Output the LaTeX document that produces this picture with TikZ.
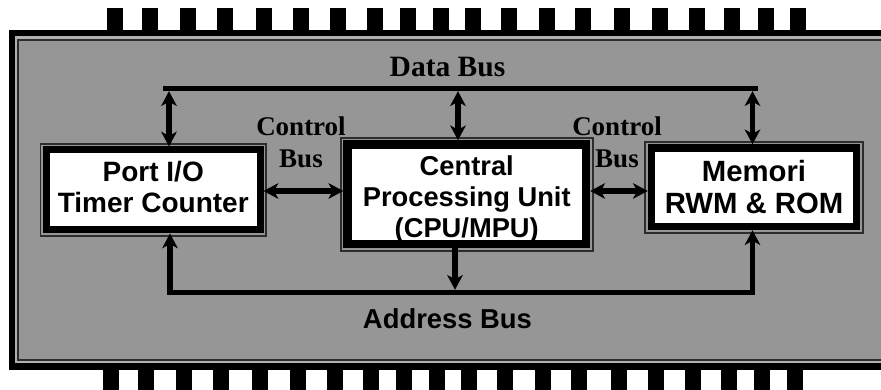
\documentclass[tikz,border=0pt]{standalone}
\usepackage{fontspec}
\setmainfont{Liberation Serif}
\setsansfont{Liberation Sans}
\usetikzlibrary{arrows.meta}

\definecolor{chipgray}{RGB}{150,150,150}
\definecolor{rimgray}{RGB}{176,176,176}
\definecolor{edgeline}{RGB}{45,45,45}

\begin{document}
\begin{tikzpicture}[x=1pt, y=-1pt,
  unitbox/.style={draw=black, fill=white, inner sep=0pt, align=center,
    font=\sffamily\bfseries\fontsize{28}{31}\selectfont},
  rim/.style={draw=edgeline, line width=1.6pt},
  bus/.style={line width=5.5pt, line join=miter},
  bustip/.tip={Stealth[length=15pt, width=16pt, inset=4.5pt, line width=0pt]},
  serifbus/.style={inner sep=0pt, align=center,
    font=\rmfamily\bfseries\fontsize{27}{32}\selectfont},
  pin/.style={fill=black}
]
\useasboundingbox (0,0) rectangle (881,390);
\clip (0,0) rectangle (881,390);

% package pins
\foreach \px in {107,142,180,217,256,293,330,367,400,433,465,501,539,575,614,652,689,724,758,790}
  \fill[pin] (\px,8) rectangle ++(16,24);
\foreach \px in {103,138,176,213,252,290,327,363,396,429,461,497,535,571,611,648,685,721,754,787}
  \fill[pin] (\px,368) rectangle ++(16,25);

% package body with its double rim
\fill[black] (9,30.5) rectangle (900,370);
\fill[rimgray] (15,36.5) rectangle (900,363.3);
\filldraw[fill=chipgray, draw=edgeline, line width=2pt] (17.8,39.6) rectangle (910,359.8);

% functional units (struts balance the text block inside each frame)
\node[unitbox, line width=7pt, minimum width=213.5pt, minimum height=80pt]
  (port) at (153.25,190) {Port I/O\\Timer Counter\rule[-7pt]{0pt}{0pt}};
\node[unitbox, line width=8.5pt, minimum width=238.5pt, minimum height=99.5pt,
  font=\sffamily\bfseries\fontsize{27.3}{31}\selectfont]
  (cpu) at (466.75,194.25) {\rule{0pt}{30pt}Central\\Processing Unit\\(CPU/MPU)};
\node[unitbox, line width=7.5pt, minimum width=205pt, minimum height=78.5pt,
  font=\sffamily\bfseries\fontsize{29.3}{32.5}\selectfont]
  (mem) at (754,187.25) {Memori\\RWM \& ROM};

% thin outer rims of the units
\foreach \u in {port,cpu,mem}
  \draw[rim] ([xshift=-2.5pt, yshift=2.5pt]\u.north west) rectangle
             ([xshift=2.5pt, yshift=-2.5pt]\u.south east);

% data bus
\coordinate (dbL) at (163,88.5);
\coordinate (dbR) at (758,88.5);
\draw[bus] (dbL) -- (dbR);
\coordinate (dP) at (169,91.2);
\coordinate (dC) at (458,91.2);
\coordinate (dM) at (752.5,91.2);
\draw[bus, bustip-bustip] (dP) -- (dP |- port.north);
\draw[bus, bustip-bustip] (dC) -- (dC |- cpu.north);
\draw[bus, bustip-bustip] (dM) -- (dM |- mem.north);

% address bus
\coordinate (abL) at (170,292.5);
\coordinate (abR) at (752.5,292.5);
\coordinate (aC) at (455,289.8);
\draw[bus, bustip-bustip] (abL |- port.south) -- (abL) -- (abR) -- (abR |- mem.south);
\draw[bus, -bustip] (aC |- cpu.south) -- (aC);

% control buses
\coordinate (cL) at (300,191);
\coordinate (cR) at (617,191);
\draw[bus, bustip-bustip] (port.east |- cL) -- (cpu.west |- cL);
\draw[bus, bustip-bustip] (cpu.east |- cR) -- (mem.west |- cR);

% bus labels
\node[serifbus, font=\rmfamily\bfseries\fontsize{29.5}{32}\selectfont] (dlab) at (447.5,67) {Data Bus};
\node[serifbus] (c1lab) at (301,142) {Control\\Bus};
\node[serifbus] (c2lab) at (617,142) {Control\\Bus};
\node[inner sep=0pt, font=\sffamily\bfseries\fontsize{27.4}{31}\selectfont] (alab) at (447.5,319) {Address Bus};
\end{tikzpicture}
\end{document}
